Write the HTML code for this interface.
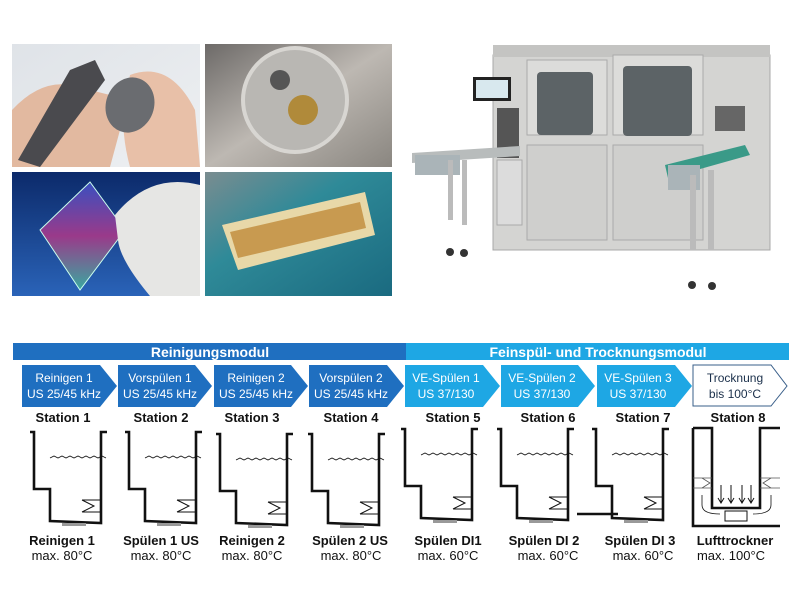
<!DOCTYPE html>
<html><head><meta charset="utf-8"><style>
html,body{margin:0;padding:0;background:#fff;}
svg{display:block;font-family:"Liberation Sans",sans-serif;}
</style></head><body>
<svg width="800" height="600" viewBox="0 0 800 600" xmlns="http://www.w3.org/2000/svg">
<defs>
<linearGradient id="p1" x1="0" y1="0" x2="1" y2="1"><stop offset="0" stop-color="#dfe3e8"/><stop offset="1" stop-color="#eef0f2"/></linearGradient>
<linearGradient id="p2" x1="0" y1="0" x2="1" y2="1"><stop offset="0" stop-color="#6d6a68"/><stop offset="0.5" stop-color="#bdb8b2"/><stop offset="1" stop-color="#8a8680"/></linearGradient>
<linearGradient id="p3" x1="0" y1="0" x2="0" y2="1"><stop offset="0" stop-color="#0c2a6a"/><stop offset="1" stop-color="#2a63b8"/></linearGradient>
<linearGradient id="g3" x1="0" y1="0" x2="0" y2="1"><stop offset="0" stop-color="#3a4fc0"/><stop offset="0.5" stop-color="#9a3a8a"/><stop offset="1" stop-color="#3aa8a0"/></linearGradient>
<linearGradient id="p4" x1="0" y1="0" x2="1" y2="1"><stop offset="0" stop-color="#7a8c90"/><stop offset="0.4" stop-color="#2f8a98"/><stop offset="1" stop-color="#1a6a80"/></linearGradient>
<g id="tank" fill="none" stroke="#111" stroke-width="2.6">
<path d="M-2,0 H2 V57 H18 V89 L69,91 V0 H75"/>
<path d="M18,26 l4,-2 l4,2 l4,-2 l4,2 l4,-2 l4,2 l4,-2 l4,2 l4,-2 l4,2 l4,-2 l4,2 l4,-2 l4,2" stroke-width="0.8"/>
<path d="M50,68 H69 M50,80 H69 M50,68 L62,74 L50,80" stroke-width="1"/>
<rect x="30" y="91" width="24" height="3" fill="#999" stroke="none"/>
</g>
</defs>
<!-- photo 1 -->
<rect x="12" y="44" width="188" height="123" fill="url(#p1)"/>
<path d="M12,110 Q40,80 70,85 L110,95 L120,130 L110,167 L12,167 Z" fill="#e2b9a0"/>
<path d="M130,75 Q170,60 195,110 L200,167 L130,167 Q120,130 125,100 Z" fill="#e8c0a8"/>
<path d="M18,160 L70,70 L95,60 L105,80 L40,167 Z" fill="#4a4a4e"/>
<ellipse cx="130" cy="105" rx="24" ry="28" fill="#6a6c70" transform="rotate(20 130 105)"/>
<!-- photo 2 -->
<rect x="205" y="44" width="187" height="123" fill="url(#p2)"/>
<circle cx="295" cy="100" r="52" fill="#b9b7b3" stroke="#d8d6d2" stroke-width="4"/>
<circle cx="303" cy="110" r="15" fill="#b08a3a"/>
<circle cx="280" cy="80" r="10" fill="#555"/>
<!-- photo 3 -->
<rect x="12" y="172" width="188" height="124" fill="url(#p3)"/>
<path d="M40,230 L90,182 L125,230 L80,290 Z" fill="url(#g3)" stroke="#cfe" stroke-width="1"/>
<path d="M115,215 Q150,172 200,185 L200,296 L150,296 Q120,260 118,240 Z" fill="#e6e6e4"/>
<!-- photo 4 -->
<rect x="205" y="172" width="187" height="124" fill="url(#p4)"/>
<path d="M222,225 L365,192 L375,235 L238,270 Z" fill="#e8d8a8"/>
<path d="M230,232 L360,202 L366,228 L238,258 Z" fill="#c89a50"/>
<!-- machine -->
<rect x="405" y="40" width="385" height="256" fill="#fff"/>
<rect x="493" y="55" width="277" height="195" fill="#d4d4d2" stroke="#a8a8a8"/>
<rect x="493" y="45" width="277" height="12" fill="#c4c4c2"/>
<rect x="527" y="60" width="80" height="75" fill="#dcdcda" stroke="#aaa"/>
<rect x="613" y="55" width="90" height="80" fill="#dcdcda" stroke="#aaa"/>
<rect x="527" y="145" width="80" height="95" fill="#cfcfcd" stroke="#aaa"/>
<rect x="613" y="145" width="90" height="95" fill="#cfcfcd" stroke="#aaa"/>
<rect x="537" y="72" width="56" height="63" fill="#5c6366" rx="4"/>
<rect x="623" y="66" width="69" height="70" fill="#5c6366" rx="4"/>
<rect x="473" y="77" width="38" height="24" fill="#222"/>
<rect x="476" y="80" width="32" height="18" fill="#d8e8ee"/>
<rect x="497" y="108" width="22" height="50" fill="#555"/>
<rect x="497" y="160" width="25" height="65" fill="#dcdcdc" stroke="#aaa"/>
<rect x="715" y="106" width="30" height="25" fill="#666"/>
<path d="M412,153 L520,146 L520,156 L412,163 Z" fill="#b8bcbc"/>
<rect x="415" y="155" width="45" height="20" fill="#aab4b8"/>
<path d="M665,165 L745,145 L750,155 L668,178 Z" fill="#3a9a88"/>
<rect x="668" y="165" width="32" height="25" fill="#aab4b8"/>
<rect x="448" y="160" width="5" height="60" fill="#bbb"/><rect x="462" y="160" width="5" height="65" fill="#bbb"/>
<rect x="690" y="175" width="6" height="75" fill="#bbb"/><rect x="708" y="170" width="6" height="80" fill="#bbb"/>
<circle cx="450" cy="252" r="4" fill="#333"/><circle cx="464" cy="253" r="4" fill="#333"/>
<circle cx="692" cy="285" r="4" fill="#333"/><circle cx="712" cy="286" r="4" fill="#333"/>
<!-- header bars -->
<rect x="13" y="343" width="393" height="17" fill="#1f6fc0"/>
<rect x="406" y="343" width="383" height="17" fill="#1ea7e4"/>
<text x="210" y="357" font-size="14" font-weight="bold" fill="#fff" text-anchor="middle">Reinigungsmodul</text>
<text x="598" y="357" font-size="14" font-weight="bold" fill="#fff" text-anchor="middle">Feinspül- und Trocknungsmodul</text>
<!-- arrows -->
<g font-size="12" text-anchor="middle" fill="#fff">
<path d="M22,365 H100 L117,386 L100,407 H22 Z" fill="#1f6fc0"/>
<text x="64" y="382">Reinigen 1</text><text x="64" y="398">US 25/45 kHz</text>
<path d="M118,365 H195 L212,386 L195,407 H118 Z" fill="#1f6fc0"/>
<text x="160" y="382">Vorspülen 1</text><text x="160" y="398">US 25/45 kHz</text>
<path d="M214,365 H291 L308,386 L291,407 H214 Z" fill="#1f6fc0"/>
<text x="256" y="382">Reinigen 2</text><text x="256" y="398">US 25/45 kHz</text>
<path d="M309,365 H387 L404,386 L387,407 H309 Z" fill="#1f6fc0"/>
<text x="351" y="382">Vorspülen 2</text><text x="351" y="398">US 25/45 kHz</text>
<path d="M405,365 H483 L500,386 L483,407 H405 Z" fill="#1ea7e4"/>
<text x="446" y="382">VE-Spülen 1</text><text x="446" y="398">US 37/130</text>
<path d="M501,365 H578 L595,386 L578,407 H501 Z" fill="#1ea7e4"/>
<text x="542" y="382">VE-Spülen 2</text><text x="542" y="398">US 37/130</text>
<path d="M597,365 H675 L692,386 L675,407 H597 Z" fill="#1ea7e4"/>
<text x="638" y="382">VE-Spülen 3</text><text x="638" y="398">US 37/130</text>
<path d="M693,365 H771 L787,386 L771,406 H693 Z" fill="#fff" stroke="#3a5f8a" stroke-width="1"/>
<text x="735" y="382" fill="#1a2f4a">Trocknung</text><text x="735" y="398" fill="#1a2f4a">bis 100°C</text>
</g>
<!-- station labels -->
<g font-size="13" font-weight="bold" fill="#111" text-anchor="middle">
<text x="63" y="422">Station 1</text><text x="161" y="422">Station 2</text><text x="252" y="422">Station 3</text><text x="351" y="422">Station 4</text>
<text x="453" y="422">Station 5</text><text x="548" y="422">Station 6</text><text x="643" y="422">Station 7</text><text x="738" y="422">Station 8</text>
</g>
<!-- tanks -->
<use href="#tank" transform="translate(32,432)"/>
<use href="#tank" transform="translate(127,432)"/>
<use href="#tank" transform="translate(218,434)"/>
<use href="#tank" transform="translate(310,434)"/>
<use href="#tank" transform="translate(403,429)"/>
<use href="#tank" transform="translate(499,429)"/>
<use href="#tank" transform="translate(594,429)"/>
<path d="M577,514 H618" stroke="#111" stroke-width="2.6"/>
<!-- drier -->
<g fill="none" stroke="#111" stroke-width="2.6">
<path d="M693,428 V526 H780"/>
<path d="M693,428 H712 V508 H760 V428 H780"/>
<path d="M693,478 H712 M693,488 H712 M760,478 H780 M760,488 H780 M702,478 L710,483 L702,488 M771,478 L763,483 L771,488" stroke-width="0.8" stroke="#555"/>
<path d="M721,485 V503 M731,485 V503 M742,485 V503 M751,485 V503" stroke-width="1"/>
<path d="M718,498 l3,5 l3,-5 M728,498 l3,5 l3,-5 M739,498 l3,5 l3,-5 M748,498 l3,5 l3,-5" stroke-width="1"/>
<rect x="725" y="511" width="22" height="10" stroke-width="1"/>
<path d="M702,495 V505 Q702,514 720,514 M771,495 V505 Q771,514 753,514" stroke-width="0.8"/>
</g>
<!-- bottom labels -->
<g font-size="13" fill="#111" text-anchor="middle">
<g font-weight="bold">
<text x="62" y="545">Reinigen 1</text><text x="161" y="545">Spülen 1 US</text><text x="252" y="545">Reinigen 2</text><text x="350" y="545">Spülen 2 US</text>
<text x="448" y="545">Spülen DI1</text><text x="544" y="545">Spülen DI 2</text><text x="640" y="545">Spülen DI 3</text><text x="735" y="545">Lufttrockner</text>
</g>
<text x="62" y="560">max. 80°C</text><text x="161" y="560">max. 80°C</text><text x="252" y="560">max. 80°C</text><text x="351" y="560">max. 80°C</text>
<text x="448" y="560">max. 60°C</text><text x="548" y="560">max. 60°C</text><text x="643" y="560">max. 60°C</text><text x="731" y="560">max. 100°C</text>
</g>
</svg>
</body></html>
